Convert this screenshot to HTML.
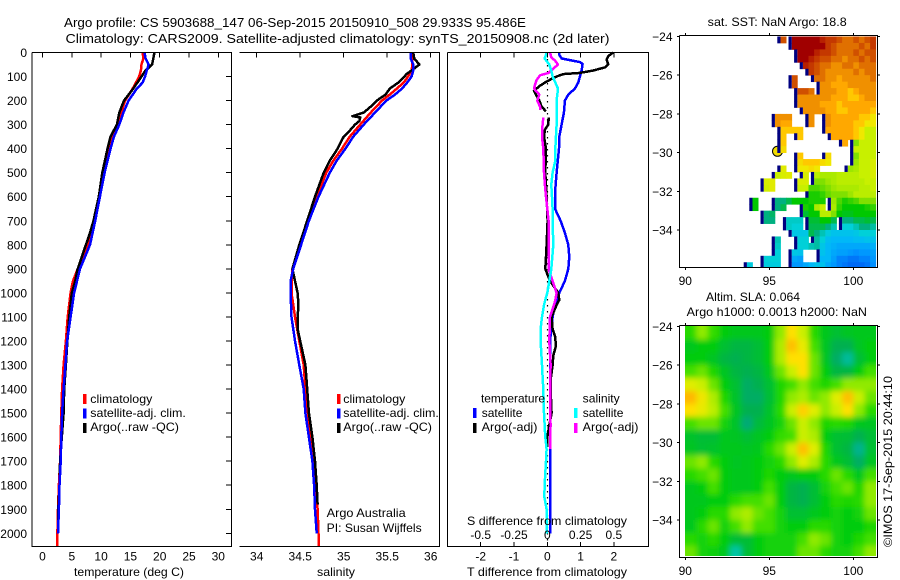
<!DOCTYPE html>
<html lang="en">
<head>
<meta charset="utf-8">
<title>Argo profile 5903688_147</title>
<style>
html,body{margin:0;padding:0;background:#fff;}
svg{display:block;}
text{font-family:"Liberation Sans",sans-serif;font-size:12px;fill:#000;}
.frame{stroke:#000;stroke-width:1;fill:none;shape-rendering:crispEdges;}
</style>
</head>
<body>
<svg id="chart" xmlns="http://www.w3.org/2000/svg" width="900" height="580" viewBox="0 0 900 580">
<defs>
<clipPath id="slaClip"><rect x="685" y="326" width="191" height="230"/></clipPath>
<clipPath id="sstClip"><rect x="680" y="36" width="196.500" height="231"/></clipPath>
<filter id="slaBlur" filterUnits="userSpaceOnUse" x="640" y="280" width="280" height="320"><feGaussianBlur stdDeviation="3"/></filter>
</defs>
<rect x="0" y="0" width="900" height="580" fill="#fff"/>
<text x="64" y="27" font-size="13" style="font-size:13px" textLength="462" lengthAdjust="spacingAndGlyphs">Argo profile: CS 5903688_147 06-Sep-2015 20150910_508 29.933S 95.486E</text>
<text x="65.500" y="43" style="font-size:13px" textLength="544" lengthAdjust="spacingAndGlyphs">Climatology: CARS2009. Satellite-adjusted climatology: synTS_20150908.nc (2d later)</text>

<g id="panelT"></g>
<g id="panelS"></g>
<g id="panelD"></g>
<g id="mapSst"></g>
<g id="mapSla"></g>

<text x="74" y="576" textLength="110" lengthAdjust="spacingAndGlyphs">temperature (deg C)</text>
<text x="317" y="576" textLength="38" lengthAdjust="spacingAndGlyphs">salinity</text>
<text x="467" y="576" textLength="160" lengthAdjust="spacingAndGlyphs">T difference from climatology</text>
<text x="467" y="525" textLength="160" lengthAdjust="spacingAndGlyphs">S difference from climatology</text>

<g>
<rect x="83" y="394" width="3.500" height="10" fill="#f00"/>
<text x="90.300" y="403" textLength="62" lengthAdjust="spacingAndGlyphs">climatology</text>
<rect x="83" y="408.500" width="3.500" height="10" fill="#00f"/>
<text x="90.300" y="417" textLength="95.500" lengthAdjust="spacingAndGlyphs">satellite-adj. clim.</text>
<rect x="83" y="423" width="3.500" height="10" fill="#000"/>
<text x="90.300" y="431" textLength="88.700" lengthAdjust="spacingAndGlyphs">Argo(..raw -QC)</text>
</g>
<g>
<rect x="337" y="394" width="3.500" height="10" fill="#f00"/>
<text x="343.300" y="403" textLength="62" lengthAdjust="spacingAndGlyphs">climatology</text>
<rect x="337" y="408.500" width="3.500" height="10" fill="#00f"/>
<text x="343.300" y="417" textLength="95.500" lengthAdjust="spacingAndGlyphs">satellite-adj. clim.</text>
<rect x="337" y="423" width="3.500" height="10" fill="#000"/>
<text x="343.300" y="431" textLength="88.700" lengthAdjust="spacingAndGlyphs">Argo(..raw -QC)</text>
</g>
<text x="326.700" y="517" textLength="79" lengthAdjust="spacingAndGlyphs">Argo Australia</text>
<text x="326.700" y="532" textLength="95" lengthAdjust="spacingAndGlyphs">PI: Susan Wijffels</text>

<g>
<text x="481" y="402.500" textLength="64" lengthAdjust="spacingAndGlyphs">temperature</text>
<rect x="473" y="408" width="3.500" height="10" fill="#00f"/>
<text x="481.700" y="417" textLength="40.700" lengthAdjust="spacingAndGlyphs">satellite</text>
<rect x="473" y="423" width="3.500" height="10" fill="#000"/>
<text x="481.700" y="431" textLength="55.700" lengthAdjust="spacingAndGlyphs">Argo(-adj)</text>
<text x="582.700" y="402.500" textLength="37" lengthAdjust="spacingAndGlyphs">salinity</text>
<rect x="574" y="408" width="3.500" height="10" fill="#0ff"/>
<text x="582.700" y="417" textLength="40.700" lengthAdjust="spacingAndGlyphs">satellite</text>
<rect x="574" y="423" width="3.500" height="10" fill="#f0f"/>
<text x="582.700" y="431" textLength="55.700" lengthAdjust="spacingAndGlyphs">Argo(-adj)</text>
</g>

<text x="707.700" y="26" textLength="139" lengthAdjust="spacingAndGlyphs">sat. SST: NaN Argo: 18.8</text>
<text x="706" y="301" textLength="94" lengthAdjust="spacingAndGlyphs">Altim. SLA: 0.064</text>
<text x="686.700" y="316" textLength="180.300" lengthAdjust="spacingAndGlyphs">Argo h1000: 0.0013 h2000: NaN</text>
<text transform="translate(892,547) rotate(-90)" x="0" y="0" textLength="171" lengthAdjust="spacingAndGlyphs">©IMOS 17-Sep-2015 20:44:10</text>
</svg>

<script>
// ---- temperature profile data (deg C by depth, m) ----
const tempClimDepths = [0,25,50,75,100,150,200,250,300,350,400,500,600,700,800,900,950,1000,1100,1200,1300,1400,1500,1600,1700,1800,1900,2000,2052];
const tempClim = [17.1,17.2,16.9,16.8,16.5,15.4,14.1,13.4,12.7,12,11.4,10.4,9.7,8.9,7.8,6,5.2,4.8,4.3,4,3.6,3.35,3.2,3.1,3,2.8,2.65,2.55,2.55];
const tempSatDepths = [0,25,50,75,100,125,150,200,250,300,350,400,500,600,700,800,900,1000,1100,1200,1300,1400,1500,1600,1700,1800,1900,2000];
const tempSat = [17.4,17.6,18.1,17.8,17.5,17.1,16.1,14.7,13.8,13.1,12.2,11.6,10.6,9.8,9,8.1,6.4,5.4,4.8,4.2,3.9,3.6,3.35,3.2,3.1,2.9,2.8,2.65];
const tempArgoDepths = [0,25,50,75,100,150,200,250,300,350,400,500,600,650,700,750,800,850,900,950,1000,1100,1200,1300,1400,1500,1600,1700,1800,1900,1990];
const tempArgo = [19.1,18.9,18.7,17.6,16.9,15.5,13.9,13.1,12.7,11.6,11.1,10.2,9.6,9.15,8.7,8.1,7.4,6.7,6,5.6,5,4.55,4.25,4,3.7,3.6,3.3,3,2.9,2.7,2.65];
const tempTicks = [0,5,10,15,20,25,30];

// ---- salinity profile data ----
const salClimDepths = [0,50,75,100,125,150,175,200,250,300,350,400,450,500,600,700,800,900,950,1000,1100,1200,1300,1400,1500,1600,1700,1800,1900,2000,2052];
const salClim = [35.79,35.79,35.78,35.74,35.69,35.61,35.53,35.44,35.31,35.19,35.07,34.98,34.88,34.8,34.69,34.59,34.49,34.41,34.4,34.4,34.44,34.49,34.54,34.56,34.59,34.62,34.65,34.68,34.7,34.71,34.71];
const salSatDepths = [0,25,50,75,100,125,150,175,200,250,300,350,400,450,500,600,700,800,900,950,1000,1100,1200,1300,1400,1500,1600,1700,1800,1900,2000];
const salSat = [35.77,35.77,35.8,35.8,35.78,35.73,35.67,35.59,35.49,35.36,35.23,35.11,35.02,34.92,34.84,34.71,34.6,34.51,34.42,34.39,34.39,34.4,34.44,34.49,34.54,34.56,34.6,34.64,34.66,34.67,34.69];
const salArgoDepths = [0,25,50,75,90,100,125,150,175,200,225,250,265,270,285,300,325,350,400,450,500,600,700,800,850,900,950,1000,1050,1100,1150,1200,1300,1400,1500,1600,1700,1800,1880];
const salArgo = [35.8,35.81,35.87,35.78,35.72,35.7,35.63,35.53,35.48,35.38,35.31,35.23,35.1,35.19,35.18,35.13,35.07,35,34.93,34.84,34.77,34.67,34.58,34.49,34.45,34.41,34.44,34.47,34.48,34.47,34.47,34.5,34.56,34.58,34.6,34.64,34.67,34.69,34.7];
const salTicks = [34,34.5,35,35.5,36];

// ---- difference panel data ----
const diffTSatDepths = [0,10,25,40,48,75,100,125,150,175,200,250,300,350,400,500,550,600,650,700,750,800,850,900,950,1000,1050,1100,1200,1300,1500,1700,1900,2000];
const diffTSat = [0.36,0.36,0.43,0.98,1.06,1.03,0.98,0.93,0.83,0.63,0.53,0.5,0.43,0.36,0.35,0.28,0.25,0.23,0.23,0.4,0.53,0.63,0.66,0.63,0.53,0.36,0.23,0.16,0.08,0.08,0.08,0.08,0.08,0.08];
const diffTArgoDepths = [0,15,30,50,62,75,85,90,100,110,125,140,150,160,200,225,245,255,270,290,300,320,350,400,500,550,600,700,800,850,900,950,1000,1029,1050,1100,1150,1180,1220,1260,1300,1350,1400,1500,1550,1600,1640];
const diffTArgo = [1.98,1.83,1.78,1.83,1.73,1.38,0.98,0.48,0.28,0.13,-0.07,-0.24,-0.32,-0.4,-0.24,-0.17,-0.04,null,0.05,0.03,0.03,-0.07,-0.1,-0.04,-0.06,-0.04,-0.02,0.01,-0.02,-0.04,-0.06,0.08,0.33,0.36,0.28,0.13,0.16,0.23,0.26,0.18,0.16,0.11,0.1,0.13,0.06,0,0];
const diffSSatDepths = [0,10,25,50,75,100,125,150,200,250,300,400,450,500,550,600,650,700,800,900,1000,1029,1050,1100,1150,1200,1300,1350,1400,1500,1600,1650,1700,1800,1850,1900,2000];
const diffSSat = [-0.005,-0.01,-0.02,0.015,0.03,0.04,0.06,0.08,0.07,0.07,0.07,0.06,0.06,0.04,0.03,0.035,0.04,0.04,0.045,0.03,0,-0.015,-0.025,-0.04,-0.05,-0.05,-0.04,-0.035,-0.03,-0.025,-0.015,-0.005,-0.01,-0.02,-0.022,-0.005,-0.005];
const diffSArgoDepths = [0,20,35,50,75,85,95,115,130,150,175,200,225,240,255,270,300,325,350,400,500,550,600,650,700,800,900,950,1000,1030,1050,1100,1200,1300,1400,1500,1550,1600,1650];
const diffSArgo = [0.02,0.03,0.06,0.08,0.03,0.01,-0.055,-0.08,-0.09,-0.1,-0.06,-0.075,-0.055,-0.055,null,-0.03,-0.035,-0.04,-0.04,-0.03,-0.025,-0.018,-0.01,0,0.01,0.01,0.01,0.04,0.07,0.06,0.05,0.02,0.015,0.025,0.02,0.02,0.025,0.02,0.02];
const diffTTicks = [-2,-1,0,1,2];
const diffSTicks = [-0.5,-0.25,0,0.25,0.5];
const diffSTickLabels = ["-0.5","-0.25","0","0.25","0.5"];
const depthTicks = [0,100,200,300,400,500,600,700,800,900,1000,1100,1200,1300,1400,1500,1600,1700,1800,1900,2000];

// ---- map axes ----
const mapLonTicks = [90,95,100];
const mapLatTicks = [-24,-26,-28,-30,-32,-34];
const argoLon = 95.486;
const argoLat = -29.933;

// ---- satellite SST grid (deg C), 34 columns x 36 rows, 1/3 degree ----
const _ = null;
const sstLon0 = 90, sstLat0 = -24, sstStep = 1/3;
const sstGrid = [
[_,_,_,_,_,_,_,_,_,_, _,_,_,_,_,_,_,21.5,_,23, 23,23,23,23,22.5,22,22,21.5,21,21, 21.5,21,21.5,22],
[_,_,_,_,_,_,_,_,_,_, _,_,_,_,_,_,_,_,_,23, 23,23,23,23,23,22,21.5,21,21,21, 21,21.5,21,22],
[_,_,_,_,_,_,_,_,_,_, _,_,_,_,_,_,_,_,_,_, 23,23,23,22.5,22,22,21.5,21,21,21, 21.5,21,21.5,21.5],
[_,_,_,_,_,_,_,_,_,_, _,_,_,_,_,_,_,_,_,_, 23,23,22.5,22,21.5,21.5,21,21,20.5,21, 21,21.5,21,21.5],
[_,_,_,_,_,_,_,_,_,_, _,_,_,_,_,_,_,_,_,_, _,22.5,22,21.5,21,21,20.5,20.5,21,21, 20.5,21,21,21],
[_,_,_,_,_,_,_,_,_,_, _,_,_,_,_,_,_,_,_,_, _,_,22,21.5,21,20.5,20.5,20.5,20.5,20.5, 21,20.5,21,21],
[_,_,_,_,_,_,_,_,_,_, _,_,_,_,_,_,_,_,_,21.5, _,_,_,21,21,20.5,20.5,20,20.5,20.5, 20.5,20.5,20.5,21],
[_,_,_,_,_,_,_,_,_,_, _,_,_,_,_,_,_,_,_,21.5, _,_,_,_,20.5,20.5,20,20,20,20.5, 20.5,20.5,20.5,20.5],
[_,_,_,_,_,_,_,_,_,_, _,_,_,_,_,_,_,_,_,_, 21.5,21.5,21,_,20.5,20.5,20.5,20,20,19.5, 20,20.5,20.5,20.5],
[_,_,_,_,_,_,_,_,_,_, _,_,_,_,_,_,_,_,_,_, 20.5,20.5,20.5,20.5,20.5,20.5,20,20,20,19.5, 19.5,20,20.5,20.5],
[_,_,_,_,_,_,_,_,_,_, _,_,_,_,_,_,_,_,_,_, 20.5,20.5,20.5,20.5,20,20,20,19.5,20,20, 20,20,20,20],
[_,_,_,_,_,_,_,_,_,_, _,_,_,_,_,_,_,_,_,_, _,20.5,20.5,20.5,20.5,20,20,19.5,19.5,20, 20,20,20,19.5],
[_,_,_,_,_,_,_,_,_,_, _,_,_,_,_,_,20.5,20.5,20.5,_, _,_,20.5,_,_,20.5,20,20,20,20, 20,19.5,19.5,19],
[_,_,_,_,_,_,_,_,_,_, _,_,_,_,_,_,20.5,20,20,_, _,_,20.5,_,_,20.5,20,20,20,20, 19.5,19.5,19,19],
[_,_,_,_,_,_,_,_,_,_, _,_,_,_,_,_,_,19.5,19.5,19.5, 19.5,_,_,_,_,20,20,20,20,20, 19.5,19,18.5,18.5],
[_,_,_,_,_,_,_,_,_,_, _,_,_,_,_,_,_,19.5,_,_, 19.5,_,_,_,_,_,20,20,20,20, 19.5,19,18.5,18.5],
[_,_,_,_,_,_,_,_,_,_, _,_,_,_,_,_,_,19.5,_,_, _,_,_,_,_,_,_,_,20,_, 18,18.5,18.5,18.5],
[_,_,_,_,_,_,_,_,_,_, _,_,_,_,_,_,_,19.2,_,_, _,_,_,_,_,_,_,_,_,_, 18.5,18.5,18.5,18.5],
[_,_,_,_,_,_,_,_,_,_, _,_,_,_,_,_,_,_,_,_, 19.5,_,_,_,_,19.2,_,_,_,_, 18,18.5,18.5,18.5],
[_,_,_,_,_,_,_,_,_,_, _,_,_,_,_,_,_,_,_,_, 19.2,19.5,19.5,19.5,19.2,19,_,_,_,_, 18.2,18.5,18.5,18.7],
[_,_,_,_,_,_,_,_,_,_, _,_,_,_,_,_,_,18.8,_,_, 19,19,19.2,19,_,_,_,_,_,18.2, 18.3,18.5,18.5,18.7],
[_,_,_,_,_,_,_,_,_,_, _,_,_,_,_,_,18.5,18.7,18.8,_, _,18.7,_,18.4,18.3,18.3,18.3,18.4,18.4,18.4, 18.4,18.5,18.5,18.7],
[_,_,_,_,_,_,_,_,_,_, _,_,_,_,18.7,18.8,_,_,_,_, 18.7,18.7,_,18,18,18.2,18.3,18.4,18.4,18.4, 18.4,18.4,18.5,18.5],
[_,_,_,_,_,_,_,_,_,_, _,_,_,_,18.6,18.8,_,_,_,_, 18.5,18.5,17.8,17.8,17.9,18,18.2,18.3,18.3,18.3, 18.3,18.4,18.4,18.5],
[_,_,_,_,_,_,_,_,_,_, _,_,_,_,_,_,_,_,_,_, _,_,17.6,17.6,17.7,17.9,18,18,18,18.2, 18.4,18.4,18.4,18.4],
[_,_,_,_,_,_,_,_,_,_, _,_,17.5,_,_,_,17,17,17.2,17.5, 17.5,17.5,17.6,17.6,17.6,_,18.2,17.8,17.6,17.7, 17.8,18,18,18],
[_,_,_,_,_,_,_,_,_,_, _,_,17.5,_,_,_,17,17.2,_,_, _,17.6,17.5,18.3,18.5,_,18.3,17.7,17.5,17.5, 17.5,17.5,17.6,17.7],
[_,_,_,_,_,_,_,_,_,_, _,_,_,_,17,17.1,_,_,_,_, _,17.3,17.5,17.5,18.4,18.4,18,17.5,17.4,17.4, 17.5,17.5,17.5,17.5],
[_,_,_,_,_,_,_,_,_,_, _,_,_,_,17,17,_,_,16.6,16.6, 16.6,_,17.3,17.3,17.5,17.5,17.2,_,17,17, 17.2,17.2,17.3,17.2],
[_,_,_,_,_,_,_,_,_,_, _,_,_,_,_,_,_,_,16.6,16.5, 16.5,_,17.2,17.2,17.2,17,16.7,_,16.5,16.5, 16.7,17,17,16.8],
[_,_,_,_,_,_,_,_,_,_, _,_,_,_,_,_,_,_,_,16.3, 16.3,16.3,17.2,17,16.7,16.4,16.2,16.2,16.2,16.2, 16.3,16.5,16.5,16.5],
[_,_,_,_,_,_,_,_,_,_, _,_,_,_,_,_,16.7,_,_,_, 16.5,16.5,_,16.8,16.5,16.1,16,16,16,16, 16.1,16.1,16.2,16.2],
[_,_,_,_,_,_,_,_,_,_, _,_,_,_,_,_,16.6,_,_,_, 16.5,16.5,16.7,16.8,16.3,16,15.9,15.8,15.8,15.8, 15.8,15.8,15.8,15.9],
[_,_,_,_,_,_,_,_,_,_, _,_,_,_,_,_,16.5,_,_,16.3, 16.2,_,_,_,16.2,16,15.8,15.7,15.7,15.6, 15.5,15.6,15.6,15.7],
[_,_,_,_,_,_,_,_,_,_, _,_,_,_,16.5,16.5,16.5,_,_,15.8, 15.7,_,_,_,16,16,15.7,15.4,15.4,15.3, 15.3,15.4,15.4,15.6],
[_,_,_,_,_,_,_,_,_,_, _,16.4,_,_,16.4,16.4,16.4,_,_,15.6, 15.6,15.8,16,16.2,16.2,15.8,15.6,15.4,15.3,15.2, 15.2,15.2,15.3,15.5]
];
const sstScaleValues = [15,15.5,16,16.5,17,17.5,18,18.5,19,19.5,20,20.5,21,21.5,22.5,23];
const sstScaleColors = ["#0050f0","#0090ff","#00b8f8","#00d0d8","#00b080","#00c800","#80e000","#c8f000","#f0e800","#ffc800","#ffa800","#f09000","#e07000","#d05000","#b82000","#a00000"];

// ---- altimeter SLA grid (m), 17 columns x 18 rows, 2/3 degree ----
const slaLon0 = 90, slaLat0 = -24, slaStep = 2/3;
const slaGrid = [
[0.04,0.1,0.05,0,-0.02,-0.02,-0.02,0,0.1,0.2,0.14,0.04,-0.02,-0.05,-0.03,-0.02,-0.02],
[-0.02,0,0,-0.05,-0.08,-0.08,-0.06,0,0.12,0.24,0.17,0.06,-0.03,-0.1,-0.1,-0.03,0],
[0,0,-0.03,-0.08,-0.1,-0.08,-0.06,0,0.12,0.2,0.2,0.08,-0.03,-0.12,-0.17,-0.06,0],
[0.06,0.08,0.03,-0.03,-0.08,-0.1,-0.08,-0.02,0.08,0.14,0.2,0.08,0,-0.08,-0.08,0,0.06],
[0.16,0.14,0.08,0,-0.05,-0.12,-0.1,-0.05,0.03,0.06,0.1,0.06,0.03,0.06,0.1,0.1,0.1],
[0.26,0.18,0.12,0.03,-0.04,-0.12,-0.12,-0.06,0.03,0.1,0.12,0.08,0.1,0.16,0.24,0.14,0.08],
[0.2,0.17,0.13,0.06,-0.03,-0.1,-0.1,-0.04,0.04,0.14,0.22,0.16,0.1,0.14,0.2,0.1,0.04],
[0.06,0.08,0.08,0.02,-0.04,-0.14,-0.07,-0.03,0.02,0.08,0.14,0.1,0.03,0.04,0.03,-0.02,-0.03],
[-0.04,-0.06,-0.06,-0.02,-0.03,-0.06,-0.03,0,0.05,0.06,0.14,0.12,0,-0.05,-0.06,-0.1,-0.06],
[-0.03,-0.05,-0.04,-0.02,-0.02,-0.03,-0.02,0.04,0.08,0.14,0.24,0.16,0.03,-0.05,-0.08,-0.16,-0.05],
[0.08,0.1,0.04,0,-0.03,-0.02,0,0.02,0.04,0.1,0.16,0.12,0.04,-0.02,-0.06,-0.12,-0.03],
[0.04,0.06,0.08,0,-0.02,-0.02,0,0.03,0,-0.02,0,0,0.04,0.08,0.04,-0.02,0.06],
[-0.02,0,0.06,0,-0.02,-0.02,0,0.06,0,-0.08,-0.1,-0.06,0.02,0.06,0.08,0.03,0.1],
[-0.02,-0.02,0,0,0.04,0.06,0.06,0.08,0,-0.08,-0.1,-0.06,0,0.04,0.03,0.04,0.1],
[-0.02,0,0.04,0.04,0.1,0.12,0.08,0.06,0.02,-0.05,-0.05,-0.02,0,0.02,0,0.02,0.08],
[-0.02,0.04,0.08,0.02,0.06,0.1,0.06,0.06,0.02,0,0,0.04,0.04,0.02,0,0,0.03],
[0.04,0.02,0.04,0,-0.06,-0.06,0,0.02,0.02,0.02,0.06,0.1,0.08,0.02,0,0.03,0.06],
[0.08,0.02,0.01,-0.02,-0.18,-0.06,0,0.02,0.02,0.02,0.08,0.08,0.04,0.02,0.02,0.06,0.1]
];
const slaScaleValues = [-0.2,-0.15,-0.1,-0.05,0,0.05,0.1,0.15,0.2,0.25];
const slaScaleColors = ["#00d8c0","#00a880","#00b050","#00c030","#00cc10","#30dc00","#90ea00","#d8f000","#ffe000","#ffb800"];

// ---- axis functions ----
const NS = "http://www.w3.org/2000/svg";
function yDepth(d){ return 52.5 + d * 0.2404; }
function xTemp(v){ return 42.5 + v * 5.86; }
function xSal(v){ return 256.7 + (v - 34) * 87; }
function xDiffT(v){ return 547.3 + v * 33.3; }
function xDiffS(v){ return 547.3 + v * 133.2; }
function xLon(v){ return 685.3 + (v - 90) * 16.8; }
function ySstLat(v){ return 36.5 + (-24 - v) * 19.35; }
function ySlaLat(v){ return 326.5 + (-24 - v) * 19.35; }

function make(parent, tag, attrs){
  const el = document.createElementNS(NS, tag);
  for (const k in attrs) el.setAttribute(k, attrs[k]);
  parent.appendChild(el);
  return el;
}
function colorFor(v, values, colors){
  if (v <= values[0]) return colors[0];
  for (let i = 1; i < values.length; i++){
    if (v <= values[i]){
      const t = (v - values[i-1]) / (values[i] - values[i-1]);
      const a = colors[i-1], b = colors[i];
      const ch = function(s){ return parseInt(a.substr(s,2),16) + t * (parseInt(b.substr(s,2),16) - parseInt(a.substr(s,2),16)); };
      return "rgb(" + Math.round(ch(1)) + "," + Math.round(ch(3)) + "," + Math.round(ch(5)) + ")";
    }
  }
  return colors[colors.length-1];
}
function drawProfile(parent, depths, values, xFn, color, name){
  let pts = [];
  const flush = function(){
    if (pts.length > 1){
      const line = make(parent, "polyline", {points: pts.join(" "), fill: "none", stroke: color, "stroke-width": 2.5, "stroke-linejoin": "round", "shape-rendering": "crispEdges"});
      
      
    }
    pts = [];
  };
  depths.forEach(function(d, i){
    if (values[i] === null){ flush(); return; }
    pts.push(xFn(values[i]).toFixed(1) + "," + yDepth(d).toFixed(1));
  });
  flush();
}
function drawTickLabel(parent, x, y, label, anchor, name){
  const t = make(parent, "text", {x: x, y: y, "text-anchor": anchor});
  t.textContent = label;
  
  
}
function drawTick(parent, x1, y1, x2, y2){
  const l = make(parent, "line", {x1: x1, y1: y1, x2: x2, y2: y2, class: "frame"});
  
  
}
function drawFramePath(parent, d, name){
  const p = make(parent, "path", {d: d, class: "frame"});
  
  
}

// ---- temperature panel ----
const panelT = document.getElementById("panelT");
drawProfile(panelT, tempClimDepths, tempClim, xTemp, "#f00", "temperature-climatology-line");
drawProfile(panelT, tempArgoDepths, tempArgo, xTemp, "#000", "temperature-argo-line");
drawProfile(panelT, tempSatDepths, tempSat, xTemp, "#00f", "temperature-satellite-line");
drawFramePath(panelT, "M32 52.5H231.500V546.500H32V52.500", "temperature-panel-frame");
tempTicks.forEach(function(v){
  drawTick(panelT, xTemp(v), 52.5, xTemp(v), 57.5);
  drawTickLabel(panelT, xTemp(v), 560.5, String(v), "middle", "temperature-tick-label");
});
depthTicks.forEach(function(d){
  drawTick(panelT, 226, yDepth(d), 231.5, yDepth(d));
  drawTickLabel(panelT, 27, yDepth(d) + 4.5, String(d), "end", "depth-tick-label");
});

// ---- salinity panel ----
const panelS = document.getElementById("panelS");
drawProfile(panelS, salClimDepths, salClim, xSal, "#f00", "salinity-climatology-line");
drawProfile(panelS, salArgoDepths, salArgo, xSal, "#000", "salinity-argo-line");
drawProfile(panelS, salSatDepths, salSat, xSal, "#00f", "salinity-satellite-line");
drawFramePath(panelS, "M239.500 52.500H439.500V546.500H239.500", "salinity-panel-frame");
salTicks.forEach(function(v){
  drawTick(panelS, xSal(v), 52.5, xSal(v), 57.5);
  drawTickLabel(panelS, xSal(v), 560.5, String(v), "middle", "salinity-tick-label");
});

// ---- difference panel ----
const panelD = document.getElementById("panelD");
const zeroLine = make(panelD, "line", {x1: 547.5, y1: 53, x2: 547.5, y2: 545, stroke: "#000", "stroke-width": 1.2, "stroke-dasharray": "1.5 4.5"});


drawProfile(panelD, diffTSatDepths, diffTSat, xDiffT, "#00f", "t-difference-satellite-line");
drawProfile(panelD, diffTArgoDepths, diffTArgo, xDiffT, "#000", "t-difference-argo-line");
drawProfile(panelD, diffSArgoDepths, diffSArgo, xDiffS, "#f0f", "s-difference-argo-line");
drawProfile(panelD, diffSSatDepths, diffSSat, xDiffS, "#0ff", "s-difference-satellite-line");
drawFramePath(panelD, "M447.500 52.500H648.500V546.500H447.500V52.500", "difference-panel-frame");
diffTTicks.forEach(function(v){
  drawTick(panelD, xDiffT(v), 52.5, xDiffT(v), 57.5);
  drawTick(panelD, xDiffT(v), 542, xDiffT(v), 546.5);
  drawTickLabel(panelD, xDiffT(v), 560.5, String(v), "middle", "t-difference-tick-label");
});
diffSTicks.forEach(function(v, i){
  drawTickLabel(panelD, xDiffS(v), 539, diffSTickLabels[i], "middle", "s-difference-tick-label");
});

// ---- map frames and ticks ----
function drawMapAxes(parent, yLat, frameTop, frameBottom, labelY, name){
  drawFramePath(parent, "M679.500 " + frameTop + "H877.500V" + frameBottom + "H679.500V" + frameTop, name + "-frame");
  mapLonTicks.forEach(function(lon){
    drawTick(parent, xLon(lon), frameTop - 2.5, xLon(lon), frameTop);
    drawTick(parent, xLon(lon), frameBottom, xLon(lon), frameBottom + 2.5);
    drawTickLabel(parent, xLon(lon), labelY, String(lon), "middle", "longitude-tick-label");
  });
  mapLatTicks.forEach(function(lat){
    drawTick(parent, 677, yLat(lat), 679.5, yLat(lat));
    drawTick(parent, 877.5, yLat(lat), 880, yLat(lat));
    drawTickLabel(parent, 672.5, yLat(lat) + 4.5, "\u2212" + Math.abs(lat), "end", "latitude-tick-label");
  });
}

// ---- SST map ----
const mapSst = document.getElementById("mapSst");
const argoMarker = make(mapSst, "circle", {cx: xLon(argoLon).toFixed(1), cy: ySstLat(argoLat).toFixed(1), r: 5, fill: "#f2dc00", stroke: "#000", "stroke-width": 1});


const sstCells = make(mapSst, "g", {"clip-path": "url(#sstClip)"});
sstGrid.forEach(function(row, r){
  const latTop = sstLat0 - r * sstStep;
  const y = ySstLat(latTop), h = ySstLat(latTop - sstStep) - y;
  row.forEach(function(v, c){
    if (v === null) return;
    const lonLeft = sstLon0 + c * sstStep;
    const x = xLon(lonLeft), w = xLon(lonLeft + sstStep) - x;
    const cell = make(sstCells, "rect", {x: x.toFixed(2), y: y.toFixed(2), width: (w + 0.4).toFixed(2), height: (h + 0.4).toFixed(2), fill: colorFor(v, sstScaleValues, sstScaleColors)});
    
    
    if (c === 0 || row[c-1] === null){
      const edge = make(sstCells, "rect", {x: (x - 3.2).toFixed(2), y: y.toFixed(2), width: 3.2, height: (h + 0.4).toFixed(2), fill: "#000080"});
      
      
    }
  });
});
drawMapAxes(mapSst, ySstLat, 35.5, 267.5, 285, "sst-map");

// ---- SLA map ----
const mapSla = document.getElementById("mapSla");
const slaClipGroup = make(mapSla, "g", {"clip-path": "url(#slaClip)"});
const slaCells = make(slaClipGroup, "g", {filter: "url(#slaBlur)"});
slaGrid.forEach(function(row, r){
  const latTop = slaLat0 - r * slaStep;
  let y = ySlaLat(latTop), h = ySlaLat(latTop - slaStep) - y + 0.4;
  if (r === 0){ y -= 20; h += 20; }
  if (r === slaGrid.length - 1){ h += 20; }
  row.forEach(function(v, c){
    const lonLeft = slaLon0 + c * slaStep;
    let x = xLon(lonLeft), w = xLon(lonLeft + slaStep) - x + 0.4;
    if (c === 0){ x -= 20; w += 20; }
    if (c === row.length - 1){ w += 20; }
    const cell = make(slaCells, "rect", {x: x.toFixed(2), y: y.toFixed(2), width: w.toFixed(2), height: h.toFixed(2), fill: colorFor(v, slaScaleValues, slaScaleColors)});
    
    
  });
});
drawMapAxes(mapSla, ySlaLat, 325.5, 557.5, 575, "sla-map");
</script>
</body>
</html>
